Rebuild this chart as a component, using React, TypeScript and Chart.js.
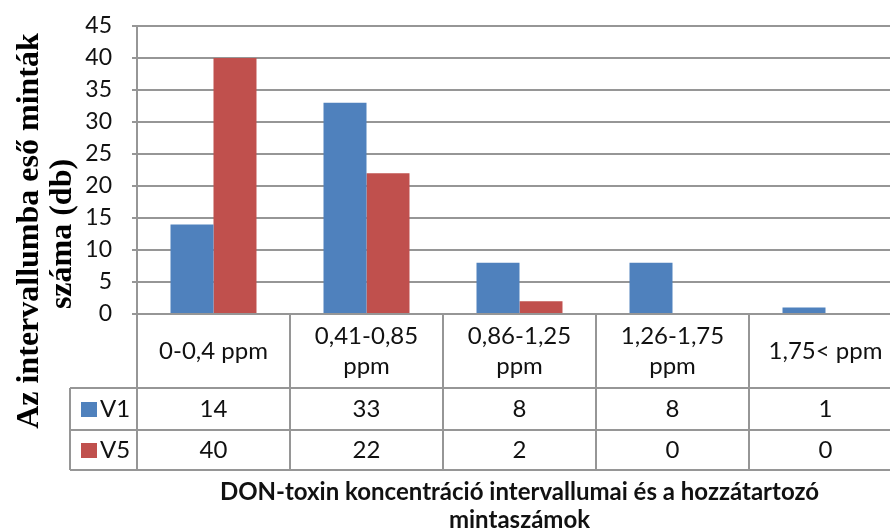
import React, { useEffect, useRef } from "react";
import { Chart, registerables } from "chart.js";

Chart.register(...registerables);

// ---- data ----
const categories: string[][] = [
  ["0-0,4 ppm"],
  ["0,41-0,85", "ppm"],
  ["0,86-1,25", "ppm"],
  ["1,26-1,75", "ppm"],
  ["1,75< ppm"],
];
const seriesNames = ["V1", "V5"];
const v1Values = [14, 33, 8, 8, 1];
const v5Values = [40, 22, 2, 0, 0];
const seriesColors = ["#4F81BD", "#C0504D"];
const yTitleLines = ["Az intervallumba eső minták", "száma (db)"];
const xTitleLines = [
  "DON-toxin koncentráció intervallumai és a hozzátartozó",
  "mintaszámok",
];
const yMin = 0;
const yMax = 45;
const yStep = 5;

const GRID = "#969696";
const SANS = "Lato, 'Open Sans', sans-serif";
const SERIF = "'Liberation Serif', 'DejaVu Serif', serif";

const tablePlugin = {
  id: "dataTable",
  afterDraw(chart: any) {
    const { ctx, chartArea } = chart;
    const n = chart.data.labels.length;
    const colW = chartArea.width / n;
    const top = chartArea.bottom;
    const headerBottom = top + 74;
    const r1Bottom = headerBottom + 42;
    const r2Bottom = r1Bottom + 40;
    const labelLeft = 70;

    ctx.save();
    ctx.strokeStyle = GRID;
    ctx.lineWidth = 2;
    ctx.beginPath();
    for (let k = 0; k <= n; k++) {
      const x = Math.round(chartArea.left + k * colW);
      ctx.moveTo(x, top);
      ctx.lineTo(x, r2Bottom);
    }
    ctx.moveTo(labelLeft, headerBottom);
    ctx.lineTo(labelLeft, r2Bottom);
    for (const y of [headerBottom, r1Bottom, r2Bottom]) {
      ctx.moveTo(labelLeft, y);
      ctx.lineTo(chartArea.right, y);
    }
    ctx.stroke();

    ctx.fillStyle = "#111";
    ctx.font = `24px ${SANS}`;
    ctx.textAlign = "center";
    ctx.textBaseline = "alphabetic";
    const headerMid = (top + headerBottom) / 2;
    chart.data.labels.forEach((lab: string[], i: number) => {
      const cx = chartArea.left + (i + 0.5) * colW;
      const lines = Array.isArray(lab) ? lab : [lab];
      const lh = 30;
      const start = headerMid - ((lines.length - 1) * lh) / 2;
      lines.forEach((t, j) => ctx.fillText(t, cx, start + j * lh + 8));
    });

    const rows = [
      [headerBottom, r1Bottom],
      [r1Bottom, r2Bottom],
    ];
    chart.data.datasets.forEach((ds: any, d: number) => {
      const [a, b] = rows[d];
      const mid = (a + b) / 2;
      ctx.fillStyle = ds.backgroundColor;
      ctx.fillRect(labelLeft + 11, mid - 7, 16, 15);
      ctx.fillStyle = "#111";
      ctx.textAlign = "left";
      ctx.fillText(ds.label, labelLeft + 30, mid + 8);
      ctx.textAlign = "center";
      ds.data.forEach((v: number, i: number) => {
        const cx = chartArea.left + (i + 0.5) * colW;
        ctx.fillText(String(v), cx, mid + 8);
      });
    });

    // x title
    ctx.font = `bold 24px ${SANS}`;
    ctx.fillStyle = "#111";
    const xc = (chartArea.left + chartArea.right) / 2;
    xTitleLines.forEach((t, j) => ctx.fillText(t, xc, r2Bottom + 30 + j * 28));

    // y title
    ctx.font = `bold 32px ${SERIF}`;
    ctx.fillStyle = "#000";
    const ys = [231, 234];
    const xb = [38, 71];
    yTitleLines.forEach((t, j) => {
      ctx.save();
      ctx.translate(xb[j], ys[j]);
      ctx.rotate(-Math.PI / 2);
      ctx.textAlign = "center";
      ctx.textBaseline = "alphabetic";
      ctx.fillText(t, 0, 0);
      ctx.restore();
    });
    ctx.restore();
  },
};

export default function App() {
  const ref = useRef<HTMLCanvasElement | null>(null);
  useEffect(() => {
    if (!ref.current) return;
    const chart = new Chart(ref.current, {
      type: "bar",
      data: {
        labels: categories,
        datasets: [
          { label: seriesNames[0], data: v1Values, backgroundColor: seriesColors[0] },
          { label: seriesNames[1], data: v5Values, backgroundColor: seriesColors[1] },
        ],
      },
      options: {
        animation: false,
        responsive: false,
        maintainAspectRatio: false,
        layout: { padding: { left: 0, top: 26, right: 0, bottom: 217 } },
        datasets: {
          bar: { categoryPercentage: 0.562, barPercentage: 1, borderWidth: 0 },
        },
        plugins: { legend: { display: false }, tooltip: { enabled: false }, title: { display: false } },
        scales: {
          x: { display: false },
          y: {
            min: yMin,
            max: yMax,
            ticks: {
              stepSize: yStep,
              padding: 20,
              color: "#111",
              font: { family: SANS, size: 23 },
            },
            grid: { color: GRID, lineWidth: 2, tickLength: 5, drawTicks: true },
            border: { display: true, color: GRID, width: 2 },
            afterFit: (s: any) => {
              s.width = 137;
              s.paddingTop = 0;
              s.paddingBottom = 0;
            },
          },
        },
      },
      plugins: [tablePlugin],
    });
    return () => chart.destroy();
  }, []);
  return (
    <div style={{ position: "fixed", left: 0, top: 0, width: 890, height: 531, overflow: "hidden", background: "#fff" }}>
      <canvas ref={ref} width={902} height={531} style={{ display: "block" }} />
    </div>
  );
}
